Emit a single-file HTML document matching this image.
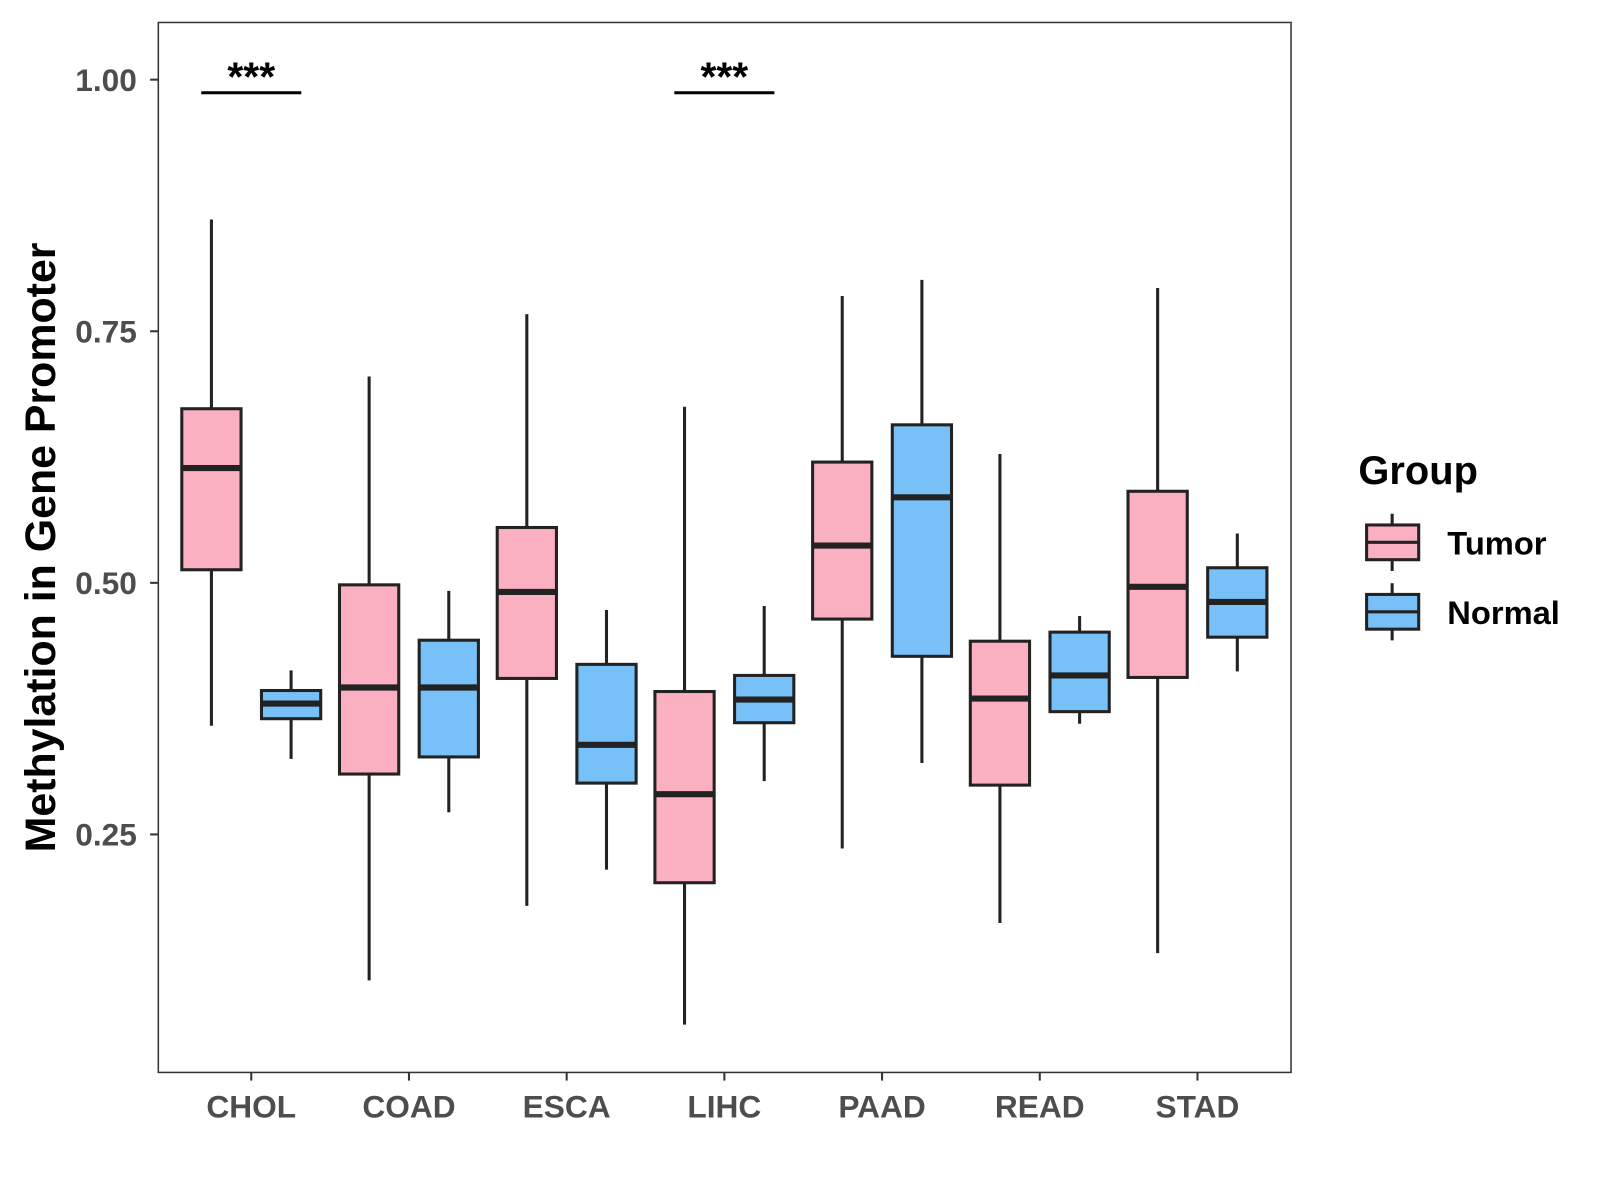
<!DOCTYPE html>
<html><head><meta charset="utf-8"><style>
body{margin:0;background:#fff}
svg{display:block;font-family:"Liberation Sans",Arial,sans-serif}
</style></head><body>
<svg id="chart" width="1600" height="1200" viewBox="0 0 1566.5 1174.9" preserveAspectRatio="none">
<rect x="0" y="0" width="1600" height="1200" fill="#fff"/>
<g id="plot"></g>
<rect x="155" y="22" width="1109" height="1028" fill="none" stroke="#333" stroke-width="1.5"/>
<text x="0" y="0" transform="translate(54,536) rotate(-90)" text-anchor="middle" font-size="42" font-weight="bold">Methylation in Gene Promoter</text>
<g>
<text x="1330" y="474" font-size="39" font-weight="bold">Group</text>
<g>
<line x1="1363" y1="503" x2="1363" y2="559" stroke="#222" stroke-width="3"/>
<rect x="1338" y="514" width="51" height="34" fill="#fbb0c2" stroke="#222" stroke-width="3"/>
<line x1="1338" y1="531" x2="1389" y2="531" stroke="#222" stroke-width="3"/>
<text x="1417" y="543" font-size="32" font-weight="bold">Tumor</text></g>
<g>
<line x1="1363" y1="571" x2="1363" y2="627" stroke="#222" stroke-width="3"/>
<rect x="1338" y="582" width="51" height="34" fill="#78c1f8" stroke="#222" stroke-width="3"/>
<line x1="1338" y1="599" x2="1389" y2="599" stroke="#222" stroke-width="3"/>
<text x="1417" y="611" font-size="32" font-weight="bold">Normal</text></g>
</g>
</svg>
<script>
const categories=["CHOL","COAD","ESCA","LIHC","PAAD","READ","STAD"];
const tumorStats=[[0.358,0.513,0.614,0.673,0.861],[0.105,0.310,0.396,0.498,0.705],[0.179,0.405,0.491,0.555,0.767],[0.061,0.202,0.290,0.392,0.675],[0.236,0.464,0.537,0.620,0.785],[0.162,0.299,0.385,0.442,0.628],[0.132,0.406,0.496,0.591,0.793]];
const normalStats=[[0.325,0.365,0.380,0.393,0.413],[0.272,0.327,0.396,0.443,0.492],[0.215,0.301,0.339,0.419,0.473],[0.303,0.361,0.384,0.408,0.477],[0.321,0.427,0.585,0.657,0.801],[0.360,0.372,0.408,0.451,0.467],[0.412,0.446,0.481,0.515,0.549]];
const yTicks=[0.25,0.5,0.75,1.0];
const yTickLabels=["0.25","0.50","0.75","1.00"];
const sigCategories=["CHOL","LIHC"];
const sigLabels=["***","***"];
const sigLevel=0.987;

const NS="http://www.w3.org/2000/svg";
const plot=document.getElementById('plot');
const y=v=>78+(1-v)*985.3;
const x=i=>246+i*154.4;
function mk(tag,attrs,parent){const e=document.createElementNS(NS,tag);for(const k in attrs)e.setAttribute(k,attrs[k]);(parent||plot).appendChild(e);return e;}

yTicks.forEach((t,i)=>{
  const g=mk('g',{});
  
  
  mk('line',{x1:147,x2:155,y1:y(t),y2:y(t),stroke:'#333','stroke-width':2},g);
  const tx=mk('text',{x:134,y:y(t)+11,'text-anchor':'end','font-size':31,'font-weight':'bold',fill:'#4d4d4d'},g);
  tx.textContent=yTickLabels[i];
});
categories.forEach((c,i)=>{
  const g=mk('g',{});
  
  
  mk('line',{x1:x(i),x2:x(i),y1:1050,y2:1058,stroke:'#333','stroke-width':2},g);
  const tx=mk('text',{x:x(i),y:1094,'text-anchor':'middle','font-size':31,'font-weight':'bold',fill:'#4d4d4d'},g);
  tx.textContent=c;
});
function box(s,cx,fill,name){
  const g=mk('g',{});
  
  
  const w=58;
  mk('line',{x1:cx,x2:cx,y1:y(s[4]),y2:y(s[3]),stroke:'#222','stroke-width':3},g);
  mk('line',{x1:cx,x2:cx,y1:y(s[1]),y2:y(s[0]),stroke:'#222','stroke-width':3},g);
  mk('rect',{x:cx-w/2,y:y(s[3]),width:w,height:y(s[1])-y(s[3]),fill:fill,stroke:'#222','stroke-width':3},g);
  mk('line',{x1:cx-w/2,x2:cx+w/2,y1:y(s[2]),y2:y(s[2]),stroke:'#222','stroke-width':6},g);
}
categories.forEach((c,i)=>{
  box(tumorStats[i],x(i)-39,'#fbb0c2','box-tumor-'+c.toLowerCase());
  box(normalStats[i],x(i)+39,'#78c1f8','box-normal-'+c.toLowerCase());
});
sigCategories.forEach((c,k)=>{
  const i=categories.indexOf(c);
  const g=mk('g',{});
  
  
  mk('line',{x1:x(i)-49,x2:x(i)+49,y1:y(sigLevel),y2:y(sigLevel),stroke:'#000','stroke-width':3},g);
  const tx=mk('text',{x:x(i),y:y(sigLevel)-2,'text-anchor':'middle','font-size':40,'font-weight':'bold'},g);
  tx.textContent=sigLabels[k];
});
</script>
</body></html>
